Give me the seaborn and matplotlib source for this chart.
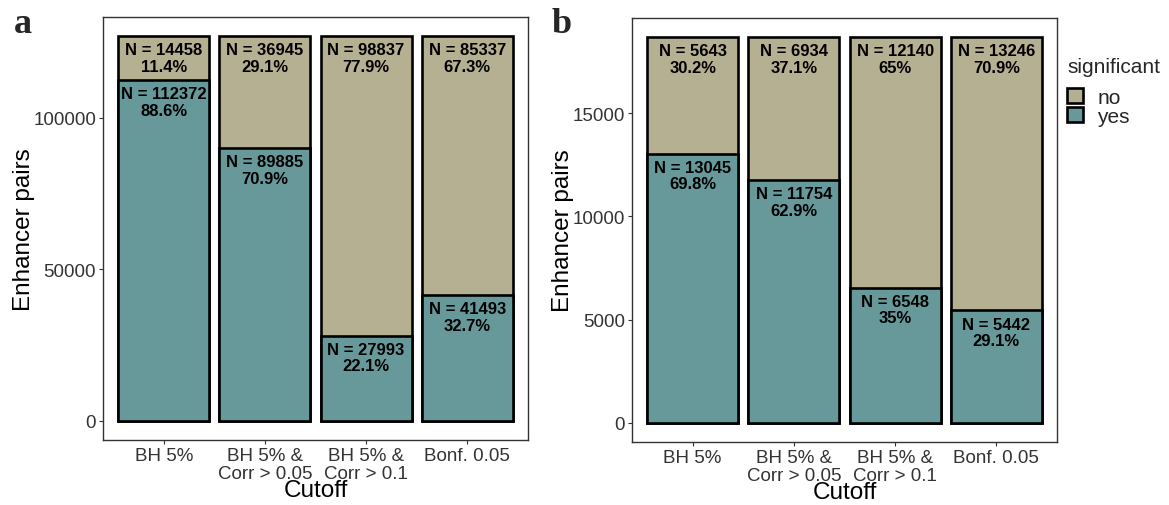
import matplotlib
matplotlib.use("Agg")
import matplotlib.pyplot as plt
import seaborn as sns
import pandas as pd
import numpy as np
from matplotlib.patches import Patch

sns.set_theme(style="white")
plt.rcParams['font.family'] = ['Liberation Sans', 'DejaVu Sans']

categories = ["BH 5%", "BH 5% &\nCorr > 0.05", "BH 5% &\nCorr > 0.1", "Bonf. 0.05"]
a_yes = [112372, 89885, 27993, 41493]
a_no = [14458, 36945, 98837, 85337]
b_yes = [13045, 11754, 6548, 5442]
b_no = [5643, 6934, 12140, 13246]
a_ticks = [0, 50000, 100000]
b_ticks = [0, 5000, 10000, 15000]

col_no = "#b6b092"
col_yes = "#67999b"
frame_col = "#333333"


def pct(v, tot):
    return f"{round(100 * v / tot, 1):g}%"


def panel(ax, yes, no, ticks):
    total = [y + n for y, n in zip(yes, no)]
    df = pd.DataFrame({"Cutoff": categories, "total": total, "yes": yes})
    sns.barplot(data=df, x="Cutoff", y="total", color=col_no, saturation=1,
                width=0.9, edgecolor="black", linewidth=1.9, ax=ax)
    sns.barplot(data=df, x="Cutoff", y="yes", color=col_yes, saturation=1,
                width=0.9, edgecolor="black", linewidth=1.9, ax=ax)
    ymax = max(total)
    ax.set_xlim(-0.6, 3.6)
    ax.set_ylim(-0.05 * ymax, 1.05 * ymax)
    off = 0.016 * ymax
    for i in range(len(categories)):
        ax.text(i, total[i] - off, f"N = {no[i]}\n{pct(no[i], total[i])}",
                ha="center", va="top", fontsize=12, fontweight="bold",
                linespacing=1.12, color="black")
        ax.text(i, yes[i] - off, f"N = {yes[i]}\n{pct(yes[i], total[i])}",
                ha="center", va="top", fontsize=12, fontweight="bold",
                linespacing=1.12, color="black")
    ax.set_yticks(ticks)
    ax.set_yticklabels([str(t) for t in ticks])
    ax.tick_params(axis="both", labelsize=13.5, colors="#333333", length=3,
                   width=0.8, direction="out", left=True, bottom=True, pad=2)
    for t in ax.get_xticklabels():
        t.set_linespacing(1.1)
    for t in ax.get_yticklabels() + ax.get_xticklabels():
        t.set_color("#333333")
    for s in ax.spines.values():
        s.set_color(frame_col)
        s.set_linewidth(1.0)
    ax.set_xlabel("Cutoff", fontsize=17.5, labelpad=-2, color="black")
    ax.set_ylabel("Enhancer pairs", fontsize=17.5, labelpad=-1, color="black")
    ax.grid(False)


fig = plt.figure(figsize=(11.69, 5.06), dpi=100)
ax1 = fig.add_axes([0.0881, 0.1285, 0.3636, 0.836])
ax2 = fig.add_axes([0.5406, 0.1245, 0.3636, 0.838])
panel(ax1, a_yes, a_no, a_ticks)
panel(ax2, b_yes, b_no, b_ticks)

fig.text(0.012, 0.935, "a", fontsize=26, fontweight="bold",
         family=["Liberation Serif", "DejaVu Serif"], va="baseline")
fig.text(0.472, 0.935, "b", fontsize=26, fontweight="bold",
         family=["Liberation Serif", "DejaVu Serif"], va="baseline")

handles = [Patch(facecolor=col_no, edgecolor="black", linewidth=1.9, label="no"),
           Patch(facecolor=col_yes, edgecolor="black", linewidth=1.9, label="yes")]
leg = fig.legend(handles=handles, title="significant", loc="upper left",
                 bbox_to_anchor=(0.904, 0.905), frameon=False, fontsize=15,
                 title_fontsize=15, handlelength=0.75, handleheight=0.75,
                 handletextpad=0.7, labelspacing=0.0, borderpad=0)
leg._legend_box.align = "left"
leg._legend_box.sep = 8

fig.savefig("out.png", dpi=100)
